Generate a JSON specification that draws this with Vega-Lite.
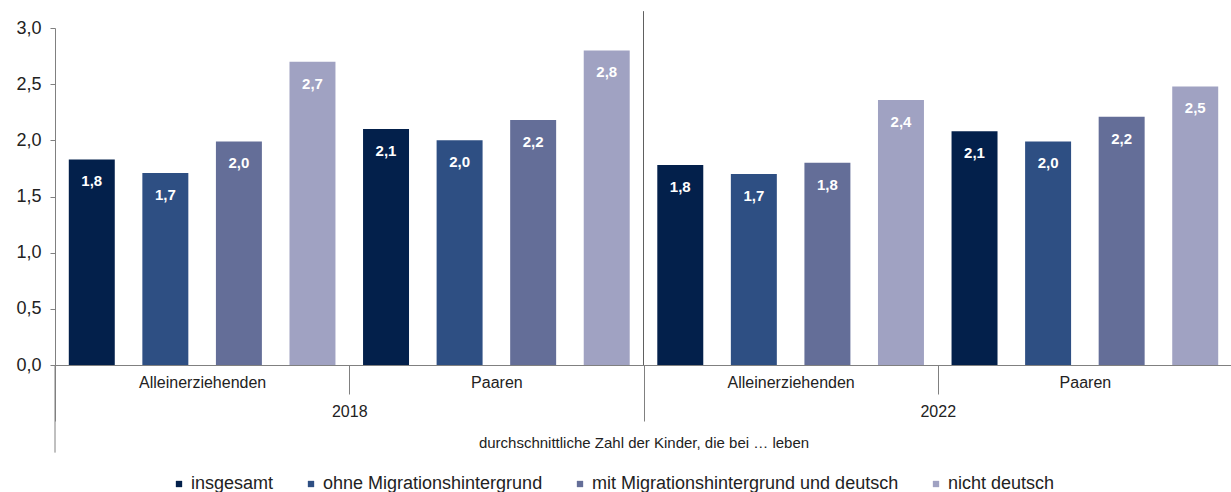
{
  "$schema": "https://vega.github.io/schema/vega-lite/v6.json",
  "padding": {"left": 15, "top": 10, "right": 0, "bottom": 0},
  "width": 1177,
  "height": 337,
  "config": {
    "font": "Liberation Sans",
    "locale": {"number": {"decimal": ",", "thousands": ".", "grouping": [3], "currency": ["", " €"]}},
    "view": {"stroke": null},
    "axis": {"domainColor": "#808080", "tickColor": "#808080", "labelColor": "#222222", "titleColor": "#222222", "grid": false},
    "legend": {"labelColor": "#222222"}
  },
  "data": {
    "values": [
      {"Jahr": "2018", "Haushalt": "Alleinerziehenden", "Status": "insgesamt", "Wert": 1.83},
      {"Jahr": "2018", "Haushalt": "Alleinerziehenden", "Status": "ohne Migrationshintergrund", "Wert": 1.71},
      {"Jahr": "2018", "Haushalt": "Alleinerziehenden", "Status": "mit Migrationshintergrund und deutsch", "Wert": 1.99},
      {"Jahr": "2018", "Haushalt": "Alleinerziehenden", "Status": "nicht deutsch", "Wert": 2.70},
      {"Jahr": "2018", "Haushalt": "Paaren", "Status": "insgesamt", "Wert": 2.10},
      {"Jahr": "2018", "Haushalt": "Paaren", "Status": "ohne Migrationshintergrund", "Wert": 2.00},
      {"Jahr": "2018", "Haushalt": "Paaren", "Status": "mit Migrationshintergrund und deutsch", "Wert": 2.18},
      {"Jahr": "2018", "Haushalt": "Paaren", "Status": "nicht deutsch", "Wert": 2.80},
      {"Jahr": "2022", "Haushalt": "Alleinerziehenden", "Status": "insgesamt", "Wert": 1.78},
      {"Jahr": "2022", "Haushalt": "Alleinerziehenden", "Status": "ohne Migrationshintergrund", "Wert": 1.70},
      {"Jahr": "2022", "Haushalt": "Alleinerziehenden", "Status": "mit Migrationshintergrund und deutsch", "Wert": 1.80},
      {"Jahr": "2022", "Haushalt": "Alleinerziehenden", "Status": "nicht deutsch", "Wert": 2.36},
      {"Jahr": "2022", "Haushalt": "Paaren", "Status": "insgesamt", "Wert": 2.08},
      {"Jahr": "2022", "Haushalt": "Paaren", "Status": "ohne Migrationshintergrund", "Wert": 1.99},
      {"Jahr": "2022", "Haushalt": "Paaren", "Status": "mit Migrationshintergrund und deutsch", "Wert": 2.21},
      {"Jahr": "2022", "Haushalt": "Paaren", "Status": "nicht deutsch", "Wert": 2.48}
    ]
  },
  "transform": [{"calculate": "datum.Jahr + ' ' + datum.Haushalt", "as": "Gruppe"}],
  "resolve": {"scale": {"x": "independent"}, "axis": {"x": "independent"}},
  "layer": [
    {
      "layer": [
        {
          "mark": {"type": "bar"},
          "encoding": {
            "x": {
              "field": "Gruppe",
              "type": "nominal",
              "scale": {"paddingInner": 0, "paddingOuter": 0},
              "axis": {"title": null, "orient": "bottom", "labelAngle": 0, "tickBand": "extent", "tickSize": 29, "labelPadding": -20, "labelFontSize": 16, "labelExpr": "split(datum.label, ' ')[1]"}
            },
            "xOffset": {
              "field": "Status",
              "type": "nominal",
              "sort": ["insgesamt", "ohne Migrationshintergrund", "mit Migrationshintergrund und deutsch", "nicht deutsch"],
              "scale": {"paddingInner": 0.375, "paddingOuter": 0.1875}
            },
            "y": {
              "field": "Wert",
              "type": "quantitative",
              "scale": {"domain": [0, 3], "nice": false},
              "axis": {"title": null, "values": [0, 0.5, 1, 1.5, 2, 2.5, 3], "format": ".1f", "labelFontSize": 18, "tickSize": 5, "labelPadding": 9}
            },
            "color": {
              "field": "Status",
              "type": "nominal",
              "sort": ["insgesamt", "ohne Migrationshintergrund", "mit Migrationshintergrund und deutsch", "nicht deutsch"],
              "scale": {"range": ["#03204b", "#2e4f83", "#646e98", "#a0a2c2"]},
              "legend": {"orient": "none", "legendX": 115, "legendY": 447, "direction": "horizontal", "title": null, "symbolType": "square", "symbolSize": 40, "labelFontSize": 18, "labelLimit": 500, "columnPadding": 28, "labelOffset": 3}
            }
          }
        },
        {
          "mark": {"type": "text", "dy": 22, "fontWeight": "bold", "fontSize": 15, "color": "white", "baseline": "middle"},
          "encoding": {
            "x": {"field": "Gruppe", "type": "nominal"},
            "xOffset": {"field": "Status", "type": "nominal", "sort": ["insgesamt", "ohne Migrationshintergrund", "mit Migrationshintergrund und deutsch", "nicht deutsch"]},
            "y": {"field": "Wert", "type": "quantitative"},
            "text": {"field": "Wert", "type": "quantitative", "format": ".1f"}
          }
        }
      ]
    },
    {
      "layer": [
        {
          "transform": [{"filter": "datum.Jahr == '2018' && datum.Haushalt == 'Alleinerziehenden' && datum.Status == 'insgesamt'"}],
          "mark": {"type": "rule", "color": "#808080", "strokeWidth": 1},
          "encoding": {
            "x": {
              "field": "Jahr",
              "type": "nominal",
              "bandPosition": 0,
              "scale": {"domain": ["2018", "2022"], "paddingInner": 0, "paddingOuter": 0},
              "axis": {"orient": "bottom", "title": "durchschnittliche Zahl der Kinder, die bei … leben", "titleFontSize": 15, "titleFontWeight": "normal", "titlePadding": 14, "labelAngle": 0, "tickBand": "extent", "tickSize": 56, "labelPadding": -18, "labelFontSize": 16, "domain": false}
            },
            "y": {"datum": 0, "type": "quantitative"},
            "y2": {"datum": -0.78}
          }
        },
        {
          "transform": [{"filter": "datum.Jahr == '2022' && datum.Haushalt == 'Alleinerziehenden' && datum.Status == 'insgesamt'"}],
          "mark": {"type": "rule", "color": "#606060", "strokeWidth": 1},
          "encoding": {
            "x": {"field": "Jahr", "type": "nominal", "bandPosition": 0},
            "y": {"datum": 3.15, "type": "quantitative"},
            "y2": {"datum": 0}
          }
        }
      ]
    }
  ]
}
